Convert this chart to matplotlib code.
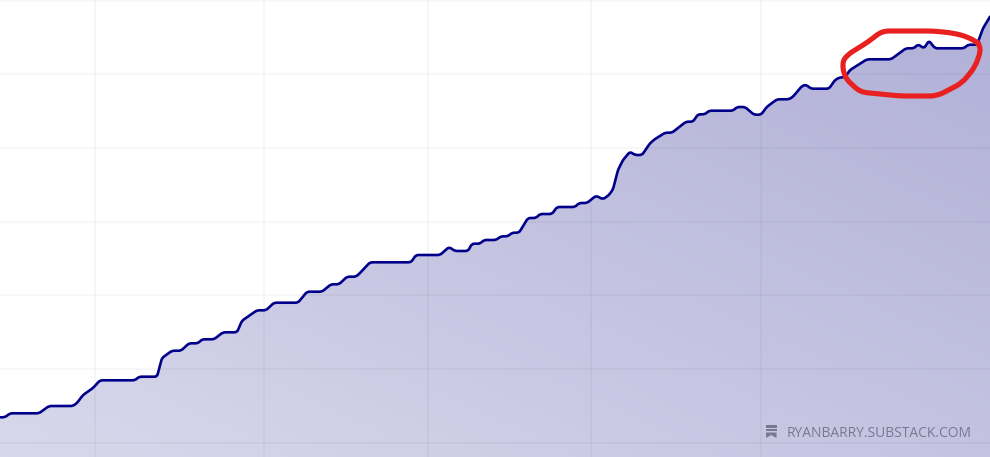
import numpy as np
import matplotlib
matplotlib.use("Agg")
import matplotlib.pyplot as plt
from matplotlib.patches import Polygon, Rectangle, PathPatch
from matplotlib.path import Path

W, H = 990, 457

# line: position along x, height above the bottom edge
pos = [0, 5, 10, 39, 49, 73, 77, 83, 93, 100, 135, 139, 157, 162, 172, 181, 189, 198, 202, 214,
       223, 237, 242, 257, 266, 274, 298, 307, 322, 331, 339, 347, 356, 360, 370, 411, 416, 440,
       449, 455, 468, 472, 480, 484, 496, 501, 508, 512, 519, 528, 536, 540, 552, 557, 575, 579,
       587, 596, 603, 609, 613, 618, 623, 630, 635, 642, 650, 655, 660, 665, 672, 686, 693, 698,
       705, 709, 733, 737, 745, 754, 761, 767, 777, 789, 793, 802, 806, 811, 829, 835, 840, 845,
       850, 867, 891, 906, 914, 918, 924, 929, 935, 964, 968, 977, 983, 990]
height = [39.7, 39.7, 43.7, 43.7, 51, 51, 54, 62, 69, 76.7, 76.7, 80.3, 80.3, 99, 106.3, 106.3,
          113.7, 113.7, 117.7, 117.7, 124.7, 124.7, 136.3, 146.7, 146.7, 154.3, 154.3, 165.3,
          165.3, 172.7, 172.7, 180.3, 180.3, 184, 194.7, 194.7, 202, 202, 210, 206, 206, 213.3,
          213.3, 217, 217, 220.7, 220.7, 224.3, 224.3, 239, 239, 243, 243, 250, 250, 254, 254,
          261.3, 257.7, 262, 267.7, 287, 297, 305.3, 302, 302, 313.7, 318, 321, 324.3, 324.3,
          335.3, 335.3, 342.7, 342.7, 346.3, 346.3, 350, 350, 342.3, 342.3, 350.3, 357.7, 357.7,
          360.3, 371, 372.3, 368.3, 368.3, 377, 379.7, 379.7, 387, 397.7, 397.7, 408.7, 408.7,
          412.7, 408.7, 416.3, 408.7, 408.7, 412.3, 412.3, 428.7, 440.3]

# hand drawn red loop
loop_x = [978, 968, 953, 933, 882, 868, 847, 842, 845, 860, 900, 937, 962, 975, 981, 978]
loop_y = [414, 420, 424, 426, 426, 415, 402, 394, 379, 365, 361, 361, 374, 390, 407, 414]

grid_x = [95, 264, 428, 591, 761]
grid_y = [14, 88, 162, 235, 309, 383, 456]


def rounded(xs, ys, r=2.5):
    """Path through the points with the corners eased off by r units."""
    pts = np.column_stack([xs, ys]).astype(float)
    verts, codes = [pts[0]], [Path.MOVETO]
    for prev, p, nxt in zip(pts[:-2], pts[1:-1], pts[2:]):
        a = p - prev
        b = nxt - p
        before = p - a / np.hypot(*a) * min(r, np.hypot(*a) / 2)
        after = p + b / np.hypot(*b) * min(r, np.hypot(*b) / 2)
        verts += [before, p, after]
        codes += [Path.LINETO, Path.CURVE3, Path.CURVE3]
    verts.append(pts[-1])
    codes.append(Path.LINETO)
    return Path(verts, codes)


fig = plt.figure(figsize=(W / 100, H / 100), dpi=100)
ax = fig.add_axes([0, 0, 1, 1])
ax.set_xlim(0, W)
ax.set_ylim(0, H)
ax.axis("off")

# diagonal gradient under the line, light at bottom left, darker at top right
gx, gy = np.meshgrid(np.linspace(0, 1, 200), np.linspace(0, 1, 100))
t = (gx + gy)[..., None] / 2
c0 = np.array([216, 216, 236]) / 255
c1 = np.array([176, 175, 215]) / 255
img = ax.imshow(c0 + (c1 - c0) * t, origin="lower", extent=[0, W, 0, H], aspect="auto", zorder=1)
poly = Polygon(list(zip(pos, height)) + [(W, 0), (0, 0)], closed=True, transform=ax.transData,
               fc="none", ec="none")
ax.add_patch(poly)
img.set_clip_path(poly)

for x in grid_x:
    ax.axvline(x, color="black", alpha=0.04, lw=1.2, zorder=2)
for y in grid_y:
    ax.axhline(y, color="black", alpha=0.04, lw=1.2, zorder=2)

ax.add_patch(PathPatch(rounded(pos, height), fc="none", ec="#00008b", lw=1.9, capstyle="round",
                       joinstyle="round", zorder=3))
ax.add_patch(PathPatch(rounded(loop_x, loop_y, r=7), fc="none", ec="#e8201f", lw=3.7,
                       capstyle="round", joinstyle="round", zorder=4))

# substack mark and watermark
mark = "#78788f"
ax.add_patch(Rectangle((766, 29.5), 10.5, 2.2, fc=mark, ec="none", zorder=5))
ax.add_patch(Rectangle((766, 26), 10.5, 2.2, fc=mark, ec="none", zorder=5))
ax.add_patch(Polygon([(766, 24.5), (776.5, 24.5), (776.5, 19), (771.2, 22), (766, 19)], closed=True,
                     fc=mark, ec="none", zorder=5))
ax.text(787, 23.5, "RYANBARRY.SUBSTACK.COM", family="Open Sans", fontsize=9.98, color=mark,
        va="center", ha="left", zorder=5)

fig.savefig("out.png", dpi=100)
